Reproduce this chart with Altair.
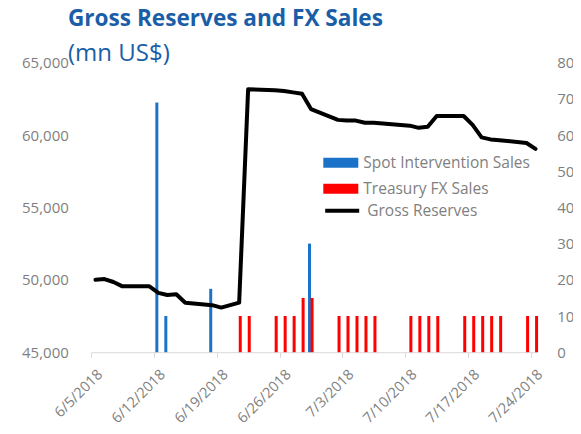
import json
import altair as alt
import pandas as pd

# ---------------- data ----------------
start_date = "2018-06-05"

line_dates = ["2018-06-05", "2018-06-06", "2018-06-07", "2018-06-08", "2018-06-11",
              "2018-06-12", "2018-06-13", "2018-06-14", "2018-06-15", "2018-06-18",
              "2018-06-19", "2018-06-21", "2018-06-22", "2018-06-25", "2018-06-26",
              "2018-06-27", "2018-06-28", "2018-06-29", "2018-07-02", "2018-07-03",
              "2018-07-04", "2018-07-05", "2018-07-06", "2018-07-10", "2018-07-11",
              "2018-07-12", "2018-07-13", "2018-07-16", "2018-07-17", "2018-07-18",
              "2018-07-19", "2018-07-20", "2018-07-23", "2018-07-24"]
gross_reserves = [50000, 50050, 49850, 49550, 49550,
                  49100, 48950, 49000, 48420, 48250,
                  48080, 48420, 63170, 63100, 63050,
                  62950, 62850, 61800, 61050, 61000,
                  61000, 60850, 60850, 60650, 60500,
                  60580, 61320, 61320, 60700, 59840,
                  59700, 59650, 59450, 59050]

spot_dates = ["2018-06-12", "2018-06-13", "2018-06-18", "2018-06-29"]
spot_sales = [690, 100, 175, 300]

treasury_dates = ["2018-06-21", "2018-06-22", "2018-06-25", "2018-06-26", "2018-06-27",
                  "2018-06-28", "2018-06-29", "2018-07-02", "2018-07-03", "2018-07-04",
                  "2018-07-05", "2018-07-06", "2018-07-10", "2018-07-11", "2018-07-12",
                  "2018-07-13", "2018-07-16", "2018-07-17", "2018-07-18", "2018-07-19",
                  "2018-07-20", "2018-07-23", "2018-07-24"]
treasury_sales = [100, 100, 100, 100, 100,
                  150, 150, 100, 100, 100,
                  100, 100, 100, 100, 100,
                  100, 100, 100, 100, 100,
                  100, 100, 100]

tick_labels = ["6/5/2018", "6/12/2018", "6/19/2018", "6/26/2018",
               "7/3/2018", "7/10/2018", "7/17/2018", "7/24/2018"]

series_names = ["Spot Intervention Sales", "Treasury FX Sales", "Gross Reserves"]

# ---------------- helpers ----------------
t0 = pd.Timestamp(start_date)


def day_center(dates):
    return [(pd.Timestamp(d) - t0).days + 0.5 for d in dates]


tick_values = [(pd.to_datetime(t, format="%m/%d/%Y") - t0).days for t in tick_labels]

line_df = pd.DataFrame({"day": day_center(line_dates), "value": gross_reserves,
                        "series": series_names[2]})
spot_df = pd.DataFrame({"day": day_center(spot_dates), "value": spot_sales,
                        "series": series_names[0]})
treas_df = pd.DataFrame({"day": day_center(treasury_dates), "value": treasury_sales,
                         "series": series_names[1]})

FONT = "Open Sans"
GRAY = "#7F7F7F"
BLUE = "#1B73C9"
RED = "#FF0000"
TITLE_BLUE = "#1B5EA8"

label_expr = f"{json.dumps(tick_labels)}[indexof({json.dumps(tick_values)}, datum.value)]"

x_enc = alt.X(
    "day:Q",
    scale=alt.Scale(domain=[0, 49.67], nice=False, zero=False, padding=0),
    axis=alt.Axis(values=tick_values, labelExpr=label_expr, title=None,
                  labelAngle=315, labelAlign="right", labelBaseline="top",
                  labelFontSize=14.5, labelFont=FONT, labelColor=GRAY,
                  domainColor="#D9D9D9", tickColor="#D9D9D9", tickSize=5,
                  labelPadding=10, labelOffset=4, grid=False),
)

right_axis = alt.Axis(orient="right", values=list(range(0, 801, 100)), format="d",
                      title=None, domain=False, ticks=False, grid=False, labelPadding=19.7,
                      labelFontSize=15, labelFont=FONT, labelColor=GRAY)
left_axis = alt.Axis(orient="left", values=list(range(45000, 65001, 5000)), format=",.0f",
                     title=None, domain=False, ticks=False, grid=False, labelPadding=22.7,
                     labelFontSize=15, labelFont=FONT, labelColor=GRAY)

bar_color = alt.Color(
    "series:N",
    scale=alt.Scale(domain=series_names[:2], range=[BLUE, RED]),
    legend=alt.Legend(orient="none", legendX=232.3, legendY=82.6, title=None,
                      symbolType="M-1,-0.286H1V0.286H-1Z", symbolSize=1225,
                      symbolStrokeWidth=0, labelFont=FONT, labelFontSize=15.5,
                      labelColor=GRAY, labelOffset=5, labelLimit=400, padding=0,
                      rowPadding=-2),
)

spot = alt.Chart(spot_df).mark_bar(size=3, xOffset=-1.5).encode(
    x=x_enc,
    y=alt.Y("value:Q", scale=alt.Scale(domain=[0, 800]), axis=right_axis),
    color=bar_color,
)
treas = alt.Chart(treas_df).mark_bar(size=3, xOffset=1.1).encode(
    x=x_enc,
    y=alt.Y("value:Q", scale=alt.Scale(domain=[0, 800]), axis=right_axis),
    color=bar_color,
)
bars = alt.layer(spot, treas)

line = alt.Chart(line_df).mark_line(strokeWidth=4, strokeJoin="round", strokeCap="round").encode(
    x=x_enc,
    y=alt.Y("value:Q", scale=alt.Scale(domain=[45000, 65000]), axis=left_axis),
    stroke=alt.Stroke(
        "series:N",
        scale=alt.Scale(domain=[series_names[2]], range=["#000000"]),
        legend=alt.Legend(orient="none", legendX=232.2, legendY=129, title=None,
                          symbolType="stroke", symbolSize=1156, symbolStrokeWidth=4,
                          labelFont=FONT, labelFontSize=15.5, labelColor=GRAY,
                          labelOffset=6, labelLimit=400, padding=0),
    ),
)

chart = alt.layer(bars, line).resolve_scale(y="independent").properties(
    width=446,
    height=289.5,
    autosize=alt.AutoSizeParams(type="none"),
    padding={"left": 83, "top": 54.7, "right": 36, "bottom": 73.8},
    title=alt.TitleParams(
        text="Gross Reserves and FX Sales", subtitle="(mn US$)",
        anchor="start", frame="group", dx=-23, offset=-10,
        font=FONT, fontSize=22.6, fontWeight="bold", color=TITLE_BLUE,
        subtitleFont=FONT, subtitleFontSize=24, subtitleFontWeight="normal",
        subtitleColor=TITLE_BLUE, subtitlePadding=11,
    ),
).configure_view(stroke=None)

chart.save("out.html", embed_options={"renderer": "svg", "actions": False})
